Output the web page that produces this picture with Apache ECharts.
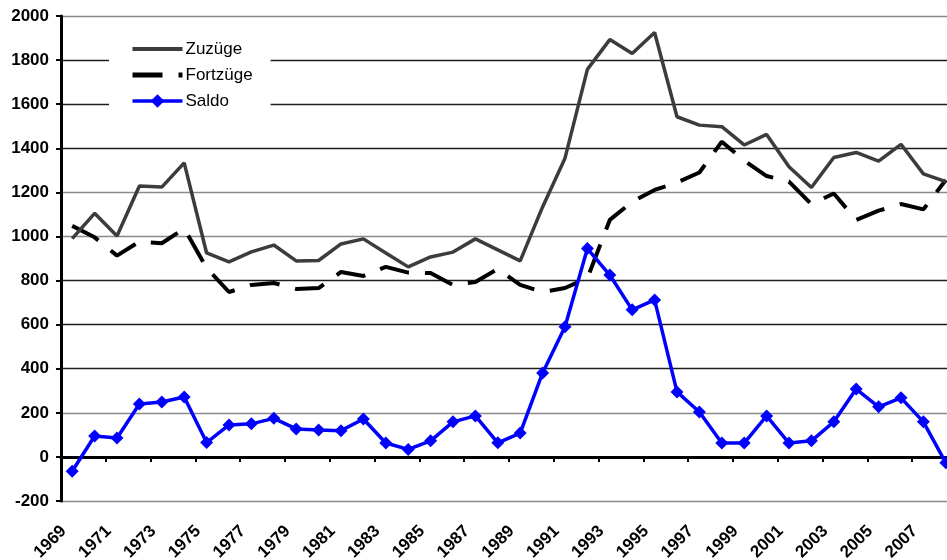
<!DOCTYPE html>
<html>
<head>
<meta charset="utf-8">
<script src="https://cdn.jsdelivr.net/npm/echarts@6/dist/echarts.min.js"></script>
<style>
  html, body { margin: 0; padding: 0; background: #fff; }
  #chart { width: 947px; height: 560px; }
</style>
</head>
<body>
<div id="chart"></div>
<script>
// Jahre 1969 - 2008
const years = [];
for (let y = 1969; y <= 2008; y++) years.push(String(y));

const zuzuege = [990, 1105, 1002, 1229, 1224, 1334, 925, 885, 930, 961,
    889, 891, 966, 989, 925, 862, 907, 929, 989, 939,
    889, 1134, 1355, 1758, 1893, 1830, 1925, 1543, 1505, 1498,
    1415, 1463, 1316, 1222, 1358, 1381, 1342, 1418, 1284, 1249];

const fortzuege = [1048, 996, 913, 977, 969, 1036, 857, 748, 780, 789,
    762, 766, 839, 821, 862, 836, 834, 780, 793, 853,
    780, 748, 766, 811, 1075, 1157, 1211, 1245, 1290, 1430,
    1344, 1274, 1249, 1146, 1195, 1075, 1117, 1147, 1123, 1256];

const saldo = [-65, 95, 86, 240, 249, 272, 65, 145, 150, 175,
    127, 122, 119, 172, 63, 34, 73, 159, 186, 64,
    108, 381, 590, 945, 825, 667, 712, 295, 204, 63,
    63, 186, 63, 73, 159, 308, 227, 268, 159, -27];

const yTicks = { min: -200, max: 2000, interval: 200 };

const FONT = '"Liberation Sans", Arial, sans-serif';
const gray = '#8a8a8a', dark = '#1e1e1e';

let chart = echarts.init(document.getElementById('chart'));
let option = {
    backgroundColor: '#fff',
    animation: false,
    grid: { left: 61, right: -10, top: 16, bottom: 59, containLabel: false, outerBoundsMode: 'none' },
    legend: {
        orient: 'vertical',
        left: 109,
        top: 25,
        backgroundColor: '#fff',
        padding: [14, 18, 6, 21],
        itemWidth: 50,
        itemHeight: 17,
        itemGap: 6,
        data: [
            { name: 'Zuzüge', itemStyle: { opacity: 0 }, lineStyle: { width: 4 } },
            { name: 'Fortzüge', itemStyle: { opacity: 0 }, lineStyle: { width: 5 } },
            { name: 'Saldo', lineStyle: { width: 3.5 } }
        ],
        textStyle: { fontFamily: FONT, fontSize: 17, color: '#000', lineHeight: 20, padding: [0, 0, 0, -2] }
    },
    xAxis: [
        {
            type: 'category',
            data: years,
            boundaryGap: true,
            position: 'bottom',
            axisLine: { show: false, onZero: false },
            axisTick: { show: false },
            axisLabel: {
                interval: 1,
                rotate: 45,
                margin: 19,
                padding: [0, 12, 0, 0],
                fontFamily: FONT,
                fontWeight: 'bold',
                fontSize: 17,
                color: '#000'
            },
            splitLine: { show: false }
        },
        {
            type: 'category',
            data: years,
            boundaryGap: true,
            position: 'bottom',
            axisLine: { show: true, onZero: true, lineStyle: { color: '#000', width: 3 } },
            axisTick: { show: true, inside: false, length: 5, lineStyle: { color: '#000', width: 2 } },
            axisLabel: { show: false },
            splitLine: { show: false }
        }
    ],
    yAxis: {
        type: 'value',
        min: yTicks.min,
        max: yTicks.max,
        interval: yTicks.interval,
        axisLine: { show: true, lineStyle: { color: '#000', width: 3 } },
        axisTick: { show: true, length: 5, lineStyle: { color: '#000', width: 2 } },
        axisLabel: {
            margin: 12,
            formatter: (v) => String(v),
            fontFamily: FONT,
            fontWeight: 'bold',
            fontSize: 17,
            color: '#000'
        },
        splitLine: {
            show: true,
            lineStyle: {
                width: 1.3,
                color: [gray, dark, gray, dark, dark, dark, gray, gray, dark, dark, dark, gray]
            }
        }
    },
    series: [
        {
            name: 'Zuzüge',
            type: 'line',
            data: zuzuege,
            symbol: 'none',
            lineStyle: { color: '#3c3c3c', width: 3.5 },
            itemStyle: { color: '#3c3c3c' },
            z: 3
        },
        {
            name: 'Fortzüge',
            type: 'line',
            data: fortzuege,
            symbol: 'none',
            lineStyle: { color: '#000', width: 4, type: [30, 16] },
            itemStyle: { color: '#000' },
            z: 2
        },
        {
            name: 'Saldo',
            type: 'line',
            data: saldo,
            symbol: 'diamond',
            symbolSize: 13,
            lineStyle: { color: '#0000ff', width: 3.5 },
            itemStyle: { color: '#0000ff' },
            z: 4
        }
    ]
};
chart.setOption(option);
</script>
</body>
</html>
